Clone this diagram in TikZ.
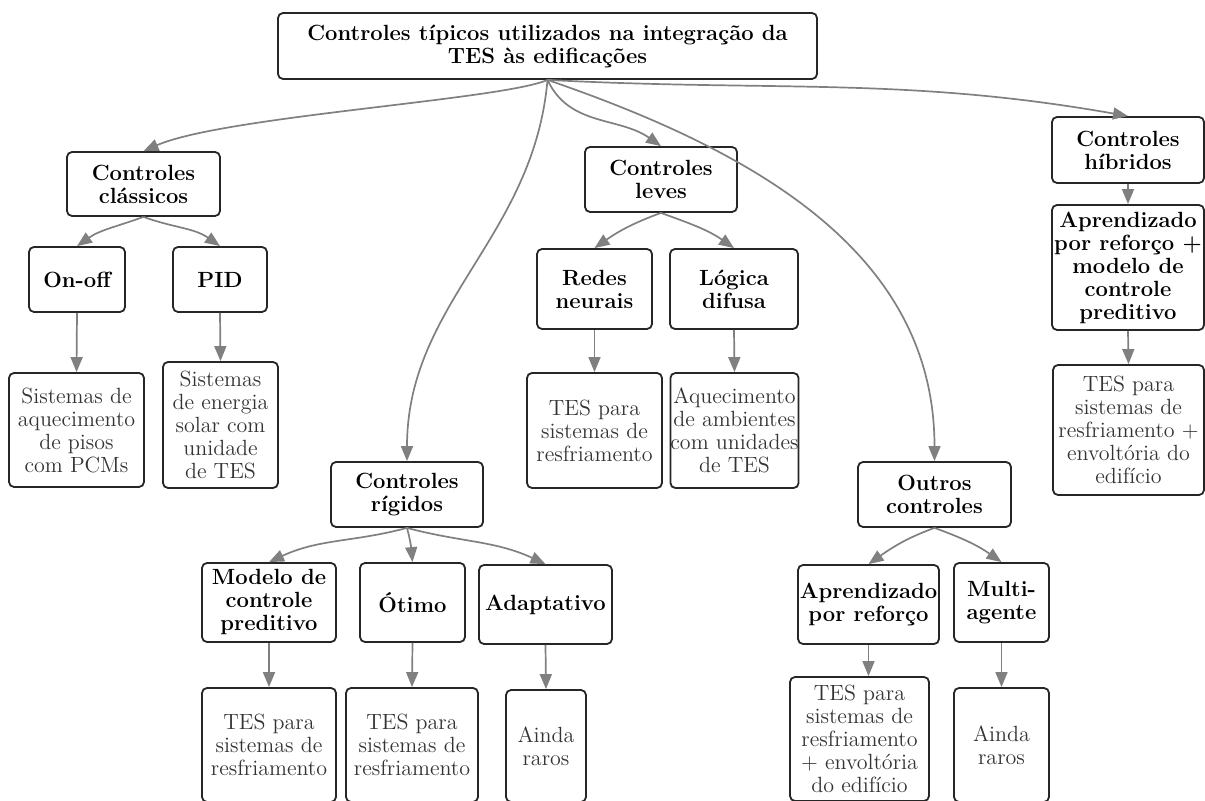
\documentclass[tikz,border=0pt]{standalone}
\usepackage{tikz}
\usetikzlibrary{arrows.meta}

\begin{document}
\begin{tikzpicture}[x=0.5pt,y=-0.5pt,
    ctrl/.style={draw=black!85, line width=0.9pt, rounded corners=2.5pt, align=center, inner sep=0pt,
      font=\fontsize{11}{11.5}\selectfont\bfseries},
    leaf/.style={ctrl, text=black!80, font=\fontsize{11}{11.5}\selectfont},
    wh/.style 2 args={minimum width=#1*0.5pt, minimum height=#2*0.5pt},
    arr/.style={draw=black!50, line width=0.85pt, -{Triangle[length=7.5pt,width=6pt]}}]
  \useasboundingbox (0,0) rectangle (1205,801);
  \clip (0,0) rectangle (1205,801);

  \node [ctrl, wh={539}{66}] (root) at (547.5,46) {Controles típicos utilizados na integração da\\TES às edificações};

  \node [ctrl, wh={153}{64}] (classicos) at (143.5,184) {Controles\\clássicos};
  \node [ctrl, wh={96}{65}] (onoff) at (77,279.5) {On-off};
  \node [ctrl, wh={94}{65}] (pid) at (220,279.5) {PID};
  \node [leaf, wh={135}{114}] (pisos) at (76.5,430) {Sistemas de\\aquecimento\\de pisos\\com PCMs};
  \node [leaf, wh={115}{126}] (solar) at (220.5,425) {Sistemas\\de energia\\solar com\\unidade\\de TES};

  \node [ctrl, wh={152}{65}] (leves) at (661,179.5) {Controles\\leves};
  \node [ctrl, wh={115}{80}] (redes) at (594.5,289) {Redes\\neurais};
  \node [ctrl, wh={128}{80}] (logica) at (734,289) {Lógica\\difusa};
  \node [leaf, wh={135}{115}] (resfA) at (594.5,430.5) {TES para\\sistemas de\\resfriamento};
  \node [leaf, wh={127}{115}] (ambientes) at (734.5,430.5) {Aquecimento\\de ambientes\\com unidades\\de TES};

  \node [ctrl, wh={152}{66}] (hibridos) at (1128,150) {Controles\\híbridos};
  \node [ctrl, wh={152}{125}] (rlmpc) at (1128,267.5) {Aprendizado\\por reforço +\\modelo de\\controle\\preditivo};
  \node [leaf, wh={151}{130}] (envA) at (1128.5,430) {TES para\\sistemas de\\resfriamento +\\envoltória do\\edifício};

  \node [ctrl, wh={152}{65}] (rigidos) at (407,494.5) {Controles\\rígidos};
  \node [ctrl, wh={134}{79}] (mpc) at (269,602.5) {Modelo de\\controle\\preditivo};
  \node [ctrl, wh={105}{79}] (otimo) at (412.5,602.5) {Ótimo};
  \node [ctrl, wh={133}{79}] (adapt) at (545.5,604.5) {Adaptativo};
  \node [leaf, wh={134}{114}] (resfB) at (269,745) {TES para\\sistemas de\\resfriamento};
  \node [leaf, wh={132}{114}] (resfC) at (412,745) {TES para\\sistemas de\\resfriamento};
  \node [leaf, wh={80}{112}] (rarosA) at (546,746) {Ainda\\raros};

  \node [ctrl, wh={153}{65}] (outros) at (934.5,494.5) {Outros\\controles};
  \node [ctrl, wh={141}{79}] (rl) at (868.5,604.5) {Aprendizado\\por reforço};
  \node [ctrl, wh={95}{79}] (multi) at (1001.5,602.5) {Multi-\\agente};
  \node [leaf, wh={139}{124}] (envB) at (859.5,739) {TES para\\sistemas de\\resfriamento\\+ envoltória\\do edifício};
  \node [leaf, wh={95}{114}] (rarosB) at (1001.5,745) {Ainda\\raros};

  \draw [arr] (root.south) .. controls +(-45,20) and +(80,-35) .. (classicos.north);
  \draw [arr] (root.south) to[out=-65,in=145] (leves.north);
  \draw [arr] (root.south) to[out=-3,in=170] (hibridos.north);
  \draw [arr] (root.south) to[out=-19,in=90] (outros.north);
  \draw [arr] (root.south) to[out=265,in=90] (rigidos.north);

  \draw [arr] (classicos.south) to[out=200,in=35] (onoff.north);
  \draw [arr] (classicos.south) to[out=-20,in=145] (pid.north);
  \draw [arr] (onoff.south) -- (pisos.north);
  \draw [arr] (pid.south) -- (solar.north);

  \draw [arr] (leves.south) to[out=200,in=35] (redes.north);
  \draw [arr] (leves.south) to[out=-20,in=145] (logica.north);
  \draw [arr] (redes.south) -- (resfA.north);
  \draw [arr] (logica.south) -- (ambientes.north);

  \draw [arr] (hibridos.south) -- (rlmpc.north);
  \draw [arr] (rlmpc.south) -- (envA.north);

  \draw [arr] (rigidos.south) to[out=195,in=25] (mpc.north);
  \draw [arr] (rigidos.south) to[out=-75,in=95] (otimo.north);
  \draw [arr] (rigidos.south) to[out=-15,in=155] (adapt.north);
  \draw [arr] (mpc.south) -- (resfB.north);
  \draw [arr] (otimo.south) -- (resfC.north);
  \draw [arr] (adapt.south) -- (rarosA.north);

  \draw [arr] (outros.south) to[out=200,in=35] (rl.north);
  \draw [arr] (outros.south) to[out=-20,in=145] (multi.north);
  \draw [arr] (rl.south) -- (rl.south |- envB.north);
  \draw [arr] (multi.south) -- (rarosB.north);
\end{tikzpicture}
\end{document}
